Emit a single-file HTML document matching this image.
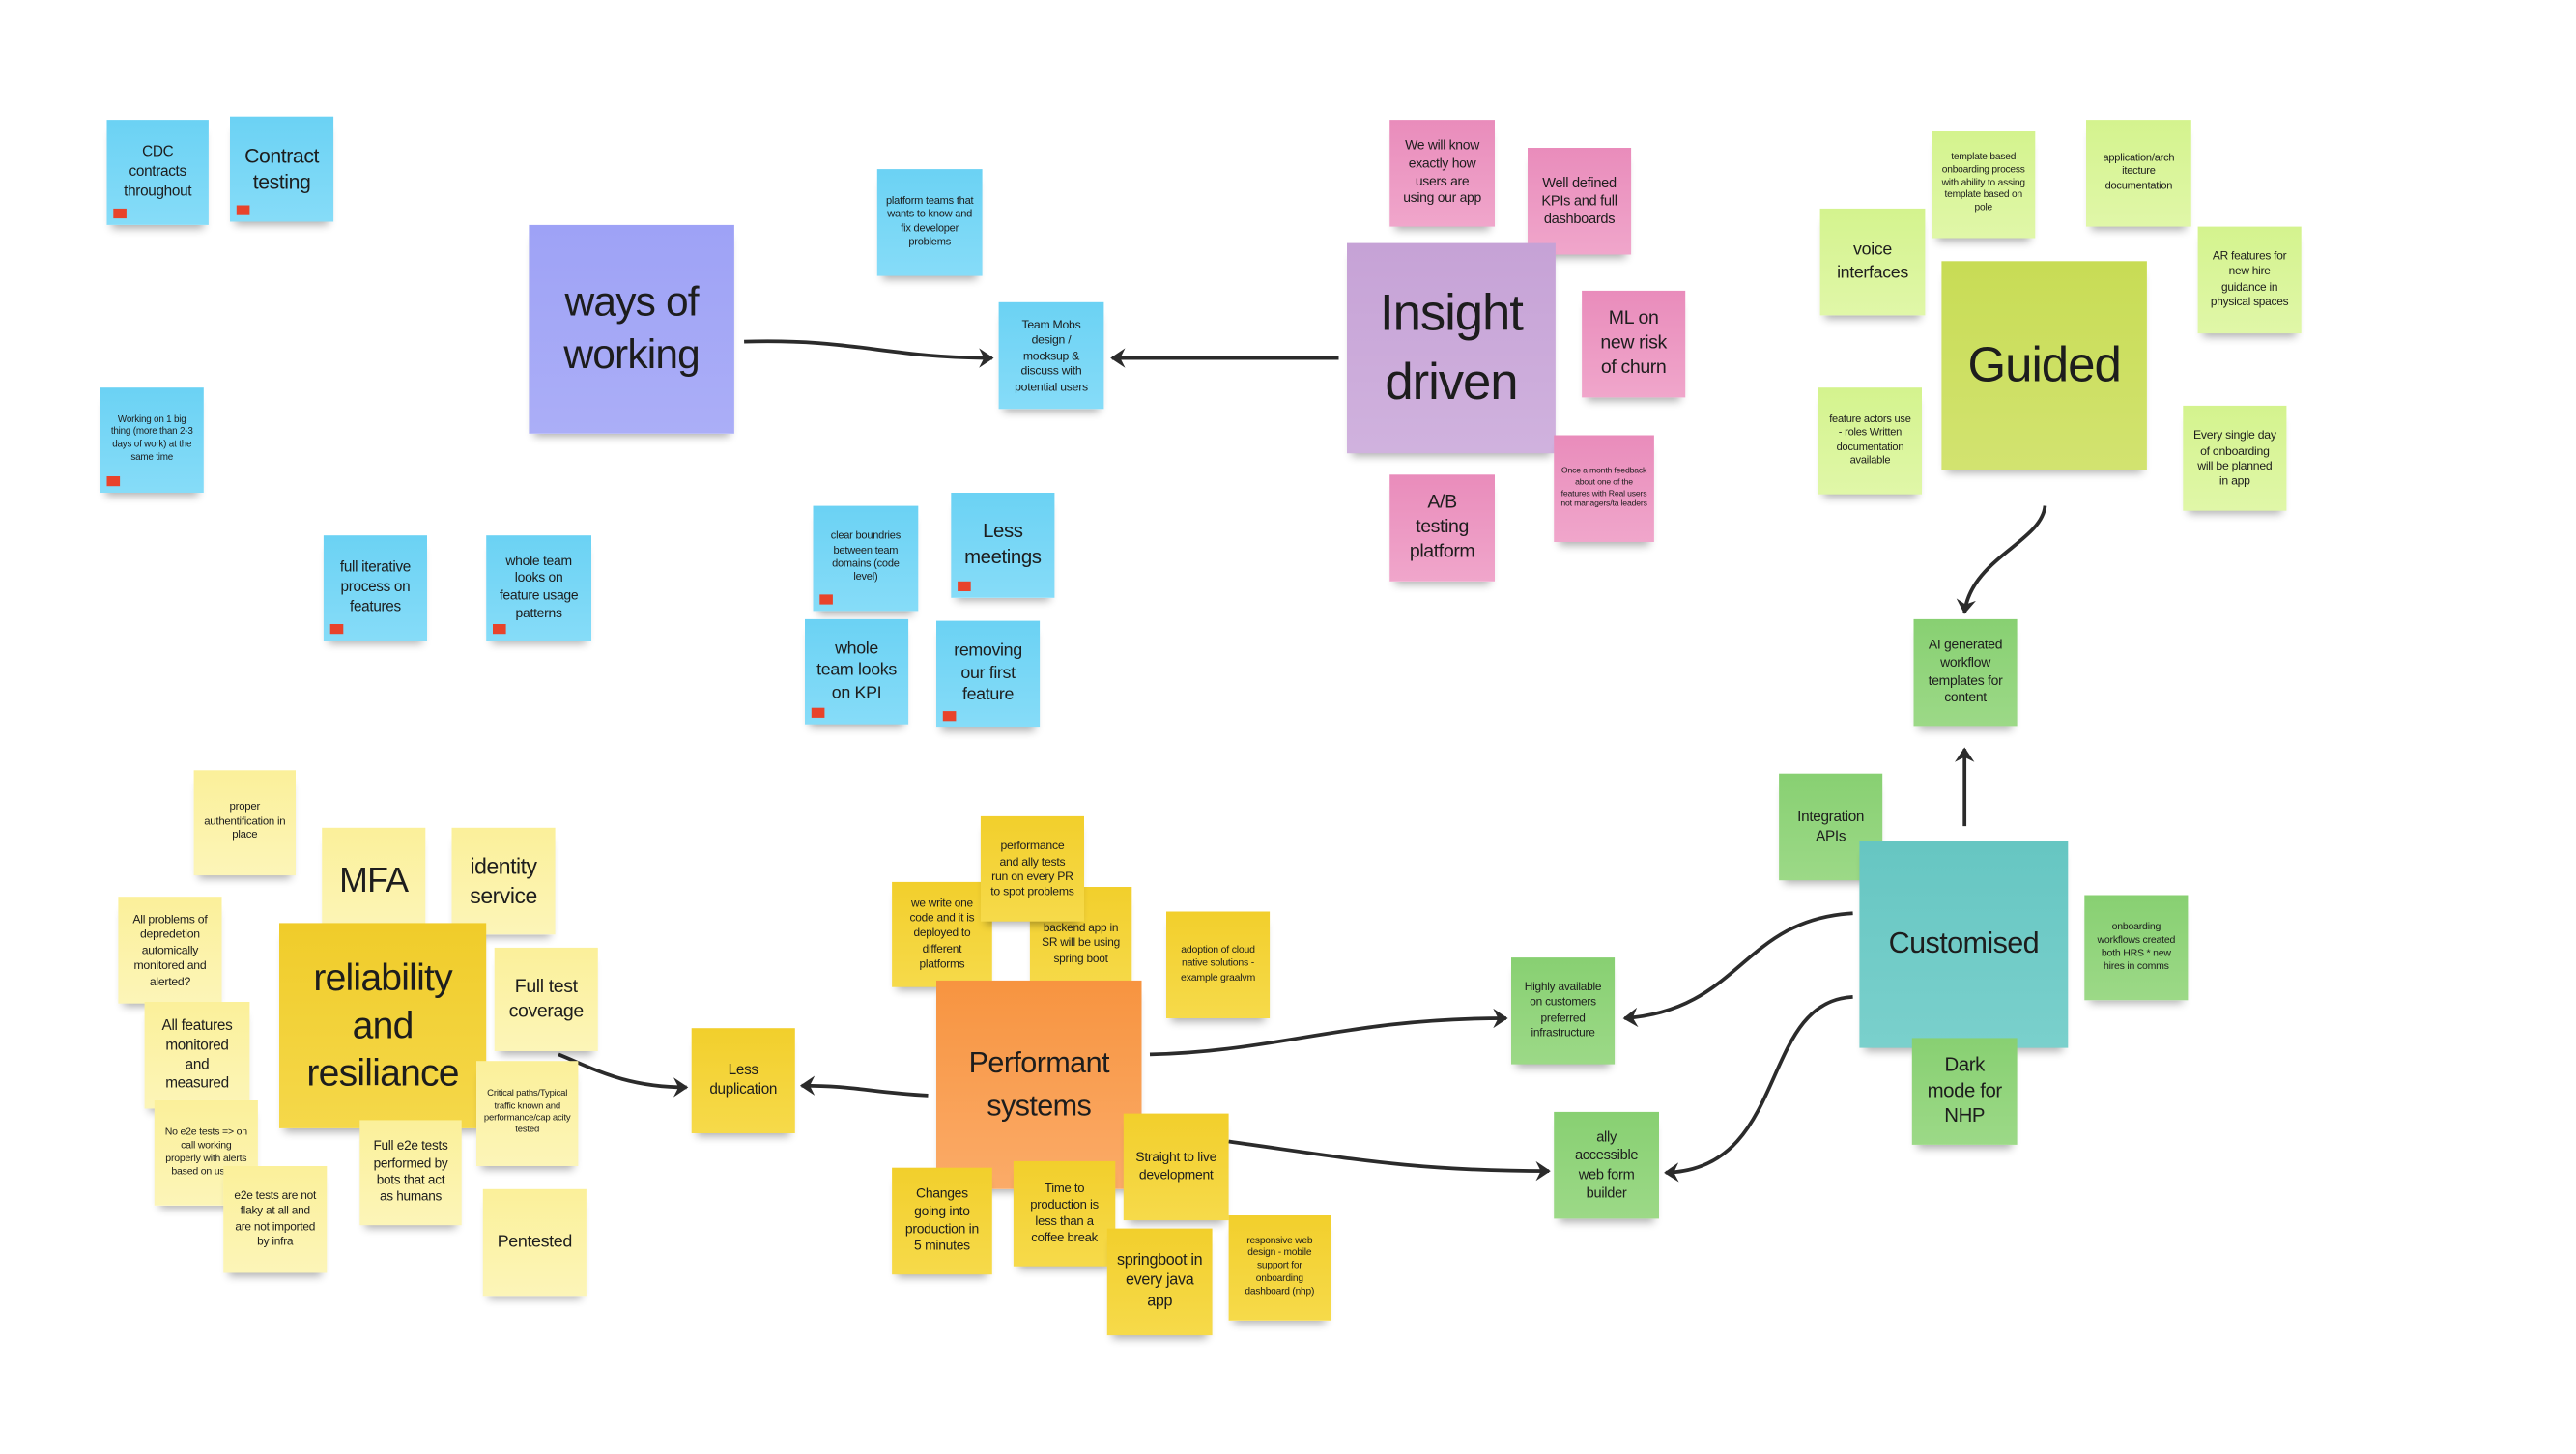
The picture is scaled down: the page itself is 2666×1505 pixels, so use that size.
<!DOCTYPE html>
<html><head><meta charset="utf-8"><style>
html,body{margin:0;padding:0;background:#fff;}
body{width:2666px;height:1500px;overflow:hidden;position:relative;}
#w{position:absolute;left:0;top:0;width:1570px;height:885px;transform:scale(1.70);transform-origin:0 0;}
.n{position:absolute;display:flex;align-items:center;justify-content:center;text-align:center;box-sizing:border-box;padding:2px 6px;color:#1d1d1d;font-family:"Liberation Sans Narrow","Liberation Sans",sans-serif;line-height:1.3;letter-spacing:-0.02em;box-shadow:0 5px 5px -3px rgba(0,0,0,.32);}
.n.s{padding:2px 4px;}
.n.big{padding:2px 8px;}
.n i{position:absolute;left:4px;bottom:4px;width:8px;height:6px;background:#e8432b;}
.b{background:linear-gradient(#6bd2f4,#86dcf8);}
.p{background:linear-gradient(#e98cbb,#f0a6cb);}
.lg{background:linear-gradient(#d4f38e,#e0f7a8);}
.g{background:linear-gradient(#88d072,#9cd987);}
.ly{background:linear-gradient(#fbf09a,#fcf5b8);}
.y{background:linear-gradient(#f2cf2c,#f6da4a);}
svg{position:absolute;left:0;top:0;}
</style></head><body><div id="w">
<svg width="1570" height="885" viewBox="0 0 1570 885">
<defs><marker id="a" markerWidth="10" markerHeight="12" refX="8" refY="6" orient="auto" markerUnits="userSpaceOnUse"><path d="M0,0 L9,6 L0,12 L3,6 Z" fill="#2b2b2b"/></marker></defs>
<g fill="none" stroke="#2b2b2b" stroke-width="2.2" marker-end="url(#a)">
<path d="M453,208 C520,206 540,218 604,218"/>
<path d="M815,218 L677,218"/>
<path d="M1245,308 C1243,330 1200,340 1196,373"/>
<path d="M1196,503 L1196,456"/>
<path d="M1128,556 C1060,560 1060,615 989,620"/>
<path d="M1128,607 C1070,610 1090,712 1014,714"/>
<path d="M700,642 C780,640 820,620 917,620"/>
<path d="M748,695 C820,705 860,713 943,713"/>
<path d="M565,667 C530,665 520,661 488,661"/>
<path d="M340,642 C360,650 380,662 418,662"/>
</g></svg>

<div class="n b" style="left:65px;top:73px;width:62px;height:64px;font-size:9px">CDC contracts throughout<i></i></div>
<div class="n b" style="left:140px;top:71px;width:63px;height:64px;font-size:12.5px">Contract testing<i></i></div>
<div class="n b s" style="left:61px;top:236px;width:63px;height:64px;font-size:5.8px">Working on 1 big thing (more than 2-3 days of work) at the same time<i></i></div>
<div class="n b" style="left:197px;top:326px;width:63px;height:64px;font-size:9px">full iterative process on features<i></i></div>
<div class="n b" style="left:296px;top:326px;width:64px;height:64px;font-size:8.2px">whole team looks on feature usage patterns<i></i></div>
<div class="n b s" style="left:534px;top:103px;width:64px;height:65px;font-size:6.5px">platform teams that wants to know and fix developer problems</div>
<div class="n b" style="left:608px;top:184px;width:64px;height:65px;font-size:7.2px">Team Mobs design / mocksup &amp; discuss with potential users</div>
<div class="n b s" style="left:495px;top:308px;width:64px;height:64px;font-size:6.5px">clear boundries between team domains (code level)<i></i></div>
<div class="n b" style="left:579px;top:300px;width:63px;height:64px;font-size:12px">Less meetings<i></i></div>
<div class="n b" style="left:490px;top:377px;width:63px;height:64px;font-size:10.5px">whole team looks on KPI<i></i></div>
<div class="n b" style="left:570px;top:378px;width:63px;height:65px;font-size:10.5px">removing our first feature<i></i></div>
<div class="n big" style="left:322px;top:137px;width:125px;height:127px;font-size:25px;background:linear-gradient(#9ea2f6,#abaef7);line-height:1.25">ways of working</div>

<div class="n p" style="left:846px;top:73px;width:64px;height:65px;font-size:8.2px">We will know exactly how users are using our app</div>
<div class="n p" style="left:930px;top:90px;width:63px;height:65px;font-size:8.6px">Well defined KPIs and full dashboards</div>
<div class="n big" style="left:820px;top:148px;width:127px;height:128px;font-size:31px;background:linear-gradient(#c6a2d6,#d0b2de);line-height:1.35">Insight driven</div>
<div class="n p" style="left:963px;top:177px;width:63px;height:65px;font-size:11.5px">ML on new risk of churn</div>
<div class="n p" style="left:846px;top:289px;width:64px;height:65px;font-size:11.5px">A/B testing platform</div>
<div class="n p s" style="left:946px;top:265px;width:61px;height:65px;font-size:5.1px">Once a month feedback about one of the features with Real users not managers/ta leaders</div>

<div class="n lg s" style="left:1176px;top:80px;width:63px;height:65px;font-size:6px">template based onboarding process with ability to assing template based on pole</div>
<div class="n lg s" style="left:1270px;top:73px;width:64px;height:65px;font-size:6.5px">application/arch itecture documentation</div>
<div class="n lg" style="left:1108px;top:127px;width:64px;height:65px;font-size:10.5px">voice interfaces</div>
<div class="n lg" style="left:1338px;top:138px;width:63px;height:65px;font-size:7px">AR features for new hire guidance in physical spaces</div>
<div class="n lg" style="left:1107px;top:236px;width:63px;height:65px;font-size:6.5px">feature actors use - roles Written documentation available</div>
<div class="n" style="left:1182px;top:159px;width:125px;height:127px;font-size:30px;background:linear-gradient(#c8dc55,#d2e370)">Guided</div>
<div class="n lg" style="left:1329px;top:247px;width:63px;height:64px;font-size:7.2px">Every single day of onboarding will be planned in app</div>

<div class="n g" style="left:1165px;top:377px;width:63px;height:65px;font-size:8.2px">AI generated workflow templates for content</div>
<div class="n g" style="left:1083px;top:471px;width:63px;height:65px;font-size:9px">Integration APIs</div>
<div class="n" style="left:1132px;top:512px;width:127px;height:126px;font-size:18px;background:linear-gradient(#66c6c2,#7ad0cc)">Customised</div>
<div class="n g" style="left:1269px;top:545px;width:63px;height:64px;font-size:6.2px">onboarding workflows created both HRS * new hires in comms</div>
<div class="n g" style="left:1164px;top:632px;width:64px;height:65px;font-size:12px">Dark mode for NHP</div>
<div class="n g" style="left:920px;top:583px;width:63px;height:65px;font-size:7px">Highly available on customers preferred infrastructure</div>
<div class="n g" style="left:946px;top:677px;width:64px;height:65px;font-size:8.6px">ally accessible web form builder</div>

<div class="n ly" style="left:118px;top:469px;width:62px;height:64px;font-size:6.7px">proper authentification in place</div>
<div class="n ly" style="left:196px;top:504px;width:63px;height:65px;font-size:21px">MFA</div>
<div class="n ly" style="left:275px;top:504px;width:63px;height:65px;font-size:13.5px">identity service</div>
<div class="n ly" style="left:72px;top:546px;width:63px;height:65px;font-size:7.2px">All problems of depredetion automically monitored and alerted?</div>
<div class="n big" style="left:170px;top:562px;width:126px;height:125px;font-size:23px;background:linear-gradient(#f0cc2a,#f5d84a);line-height:1.25">reliability and resiliance</div>
<div class="n ly" style="left:88px;top:610px;width:64px;height:65px;font-size:9px">All features monitored and measured</div>
<div class="n ly" style="left:301px;top:577px;width:63px;height:63px;font-size:11.5px">Full test coverage</div>
<div class="n ly s" style="left:290px;top:646px;width:62px;height:64px;font-size:5.6px">Critical paths/Typical traffic known and performance/cap acity tested</div>
<div class="n ly" style="left:94px;top:670px;width:63px;height:64px;font-size:6.2px">No e2e tests =&gt; on call working properly with alerts based on usage</div>
<div class="n ly" style="left:136px;top:710px;width:63px;height:65px;font-size:7px">e2e tests are not flaky at all and are not imported by infra</div>
<div class="n ly" style="left:219px;top:682px;width:62px;height:64px;font-size:8px">Full e2e tests performed by bots that act as humans</div>
<div class="n ly" style="left:294px;top:724px;width:63px;height:65px;font-size:10.5px">Pentested</div>

<div class="n y" style="left:421px;top:626px;width:63px;height:64px;font-size:9px">Less duplication</div>
<div class="n y" style="left:627px;top:540px;width:62px;height:64px;font-size:7px;padding-top:8px">backend app in SR will be using spring boot</div>
<div class="n y" style="left:543px;top:537px;width:61px;height:64px;font-size:7px">we write one code and it is deployed to different platforms</div>
<div class="n y" style="left:597px;top:497px;width:63px;height:64px;font-size:7.2px">performance and ally tests run on every PR to spot problems</div>
<div class="n y" style="left:710px;top:555px;width:63px;height:65px;font-size:6.2px">adoption of cloud native solutions - example graalvm</div>
<div class="n big" style="left:570px;top:597px;width:125px;height:127px;font-size:18px;background:linear-gradient(#f79440,#fbab68);line-height:1.4">Performant systems</div>
<div class="n y" style="left:543px;top:711px;width:61px;height:65px;font-size:8.2px">Changes going into production in 5 minutes</div>
<div class="n y" style="left:617px;top:707px;width:62px;height:64px;font-size:7.7px">Time to production is less than a coffee break</div>
<div class="n y" style="left:684px;top:678px;width:64px;height:65px;font-size:8.2px">Straight to live development</div>
<div class="n y" style="left:674px;top:748px;width:64px;height:65px;font-size:9.5px">springboot in every java app</div>
<div class="n y s" style="left:748px;top:740px;width:62px;height:64px;font-size:6px">responsive web design - mobile support for onboarding dashboard (nhp)</div>
</div></body></html>
